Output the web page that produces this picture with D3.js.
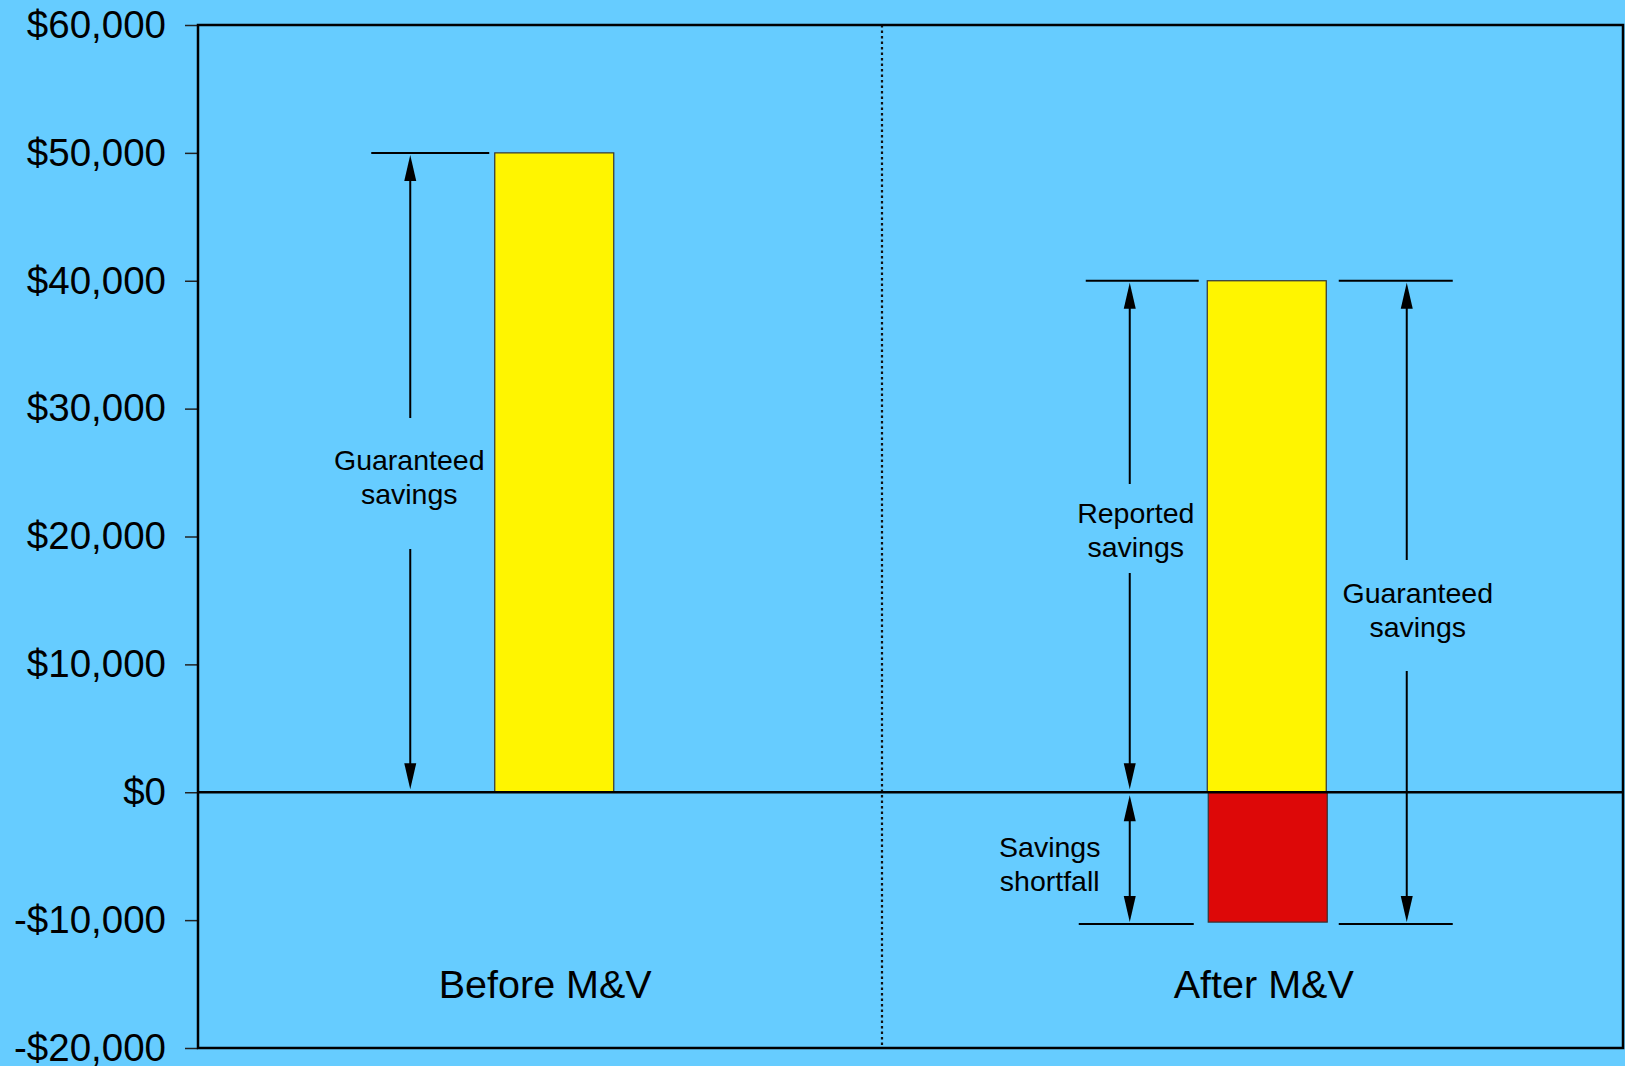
<!DOCTYPE html>
<html>
<head>
<meta charset="utf-8">
<script src="https://cdn.jsdelivr.net/npm/d3@7"></script>
<style>
  html, body { margin: 0; padding: 0; background: #66CCFF; }
  svg { display: block; }
  text { font-family: "Liberation Sans", Arial, sans-serif; fill: #000; }
</style>
</head>
<body>
<svg id="chart" width="1625" height="1066"></svg>
<script>
// ---- Data ----
const categories = ["Before M&V", "After M&V"];
const positiveValues = [50000, 40000];   // yellow bars
const negativeValues = [0, -10000];      // red bar (shortfall)
const yTicks = [-20000, -10000, 0, 10000, 20000, 30000, 40000, 50000, 60000];
const guaranteedSavings = 50000;
const reportedSavings = 40000;
const shortfall = -10000;
const dividerPosition = 0.96;           // in category units

// ---- Layout ----
const W = 1625, H = 1066;
const m = { left: 198, right: 2, top: 25, bottom: 18 };
const svg = d3.select("#chart");
svg.append("rect").attr("width", W).attr("height", H).attr("fill", "#66CCFF");

const x = d3.scaleLinear().domain([0, 2]).range([m.left, W - m.right]);
const y = d3.scaleLinear().domain([-20000, 60000]).range([H - m.bottom, m.top]);
const barW = 119;
const cx = i => x(i + 0.5);

// y axis
const fmt = d => (d < 0 ? "-" : "") + "$" + d3.format(",")(Math.abs(d));
const yAxis = svg.append("g")
  .attr("transform", `translate(${m.left},0)`)
  .call(d3.axisLeft(y).tickValues(yTicks).tickFormat(fmt).tickSize(13).tickPadding(19));
yAxis.select(".domain").remove();
yAxis.selectAll(".tick line").attr("stroke", "#222").attr("stroke-width", 1.5);
yAxis.selectAll(".tick text").style("font-size", "38.5px").attr("fill", "#000")
  .style("font-family", '"Liberation Sans", Arial, sans-serif');

// divider
svg.append("line")
  .attr("x1", x(dividerPosition)).attr("x2", x(dividerPosition))
  .attr("y1", y(60000)).attr("y2", y(-20000))
  .attr("stroke", "#111").attr("stroke-width", 2.2).attr("stroke-dasharray", "2.5,3");

// bars
svg.selectAll(".pos").data(positiveValues).join("rect")
  .attr("x", (d, i) => cx(i) - barW / 2)
  .attr("width", barW)
  .attr("y", d => y(d))
  .attr("height", d => y(0) - y(d))
  .attr("fill", "#FFF500").attr("stroke", "#333").attr("stroke-width", 1.2);

svg.selectAll(".neg").data(negativeValues.map((v, i) => ({ v, i })).filter(d => d.v < 0)).join("rect")
  .attr("x", d => cx(d.i) - barW / 2 + 1)
  .attr("width", barW)
  .attr("y", y(0))
  .attr("height", d => y(d.v) - y(0) + 2)
  .attr("fill", "#DD0808").attr("stroke", "#333").attr("stroke-width", 1.2);

// frame and zero line
svg.append("rect")
  .attr("x", x(0)).attr("y", y(60000))
  .attr("width", x(2) - x(0)).attr("height", y(-20000) - y(60000))
  .attr("fill", "none").attr("stroke", "#000").attr("stroke-width", 2.5);
svg.append("line")
  .attr("x1", x(0)).attr("x2", x(2)).attr("y1", y(0)).attr("y2", y(0))
  .attr("stroke", "#000").attr("stroke-width", 2.5);

// ---- annotation helpers ----
function hline(x1, x2, yy) {
  svg.append("line").attr("x1", x1).attr("x2", x2).attr("y1", yy).attr("y2", yy)
    .attr("stroke", "#000").attr("stroke-width", 2);
}
function vline(xx, y1, y2) {
  svg.append("line").attr("x1", xx).attr("x2", xx).attr("y1", y1).attr("y2", y2)
    .attr("stroke", "#000").attr("stroke-width", 2);
}
function head(xx, tipY, dir) { // dir -1 = pointing up, +1 = pointing down
  const L = 26, hw = 6;
  svg.append("path")
    .attr("d", `M${xx},${tipY} L${xx - hw},${tipY - dir * L} L${xx + hw},${tipY - dir * L} Z`)
    .attr("fill", "#000");
}
function label(xx, yy, lines, size) {
  const t = svg.append("text").attr("text-anchor", "middle").style("font-size", size + "px");
  lines.forEach((s, k) => t.append("tspan").attr("x", xx).attr("y", yy + k * 34).text(s));
}

const extBottom = shortfall - 300;
const fs = 28.5;

// Before M&V: guaranteed savings
{
  const c = cx(0), ax = c - 144;
  hline(c - 183, c - 65, y(guaranteedSavings));
  vline(ax, y(guaranteedSavings) + 10, 418);
  vline(ax, 549, y(0) - 10);
  head(ax, y(guaranteedSavings) + 2, -1);
  head(ax, y(0) - 3, 1);
  label(ax - 1, 470, ["Guaranteed", "savings"], fs);
}

// After M&V
{
  const c = cx(1);
  // reported savings
  const ra = c - 137;
  hline(c - 181, c - 68, y(reportedSavings));
  vline(ra, y(reportedSavings) + 10, 484);
  vline(ra, 573, y(0) - 10);
  head(ra, y(reportedSavings) + 2, -1);
  head(ra, y(0) - 3, 1);
  label(c - 131, 523, ["Reported", "savings"], fs);

  // shortfall
  hline(c - 188, c - 73, y(extBottom));
  vline(ra, y(0) + 10, y(extBottom) - 10);
  head(ra, y(0) + 3, -1);
  head(ra, y(extBottom) - 2, 1);
  label(c - 217, 857, ["Savings", "shortfall"], fs);

  // guaranteed savings
  const ga = c + 140;
  hline(c + 72, c + 186, y(reportedSavings));
  hline(c + 72, c + 186, y(extBottom));
  vline(ga, y(reportedSavings) + 10, 560);
  vline(ga, 671, y(extBottom) - 10);
  head(ga, y(reportedSavings) + 2, -1);
  head(ga, y(extBottom) - 2, 1);
  label(c + 151, 603, ["Guaranteed", "savings"], fs);
}

// category labels
svg.selectAll(".cat").data(categories).join("text")
  .attr("x", (d, i) => cx(i) - 9 + i * 6)
  .attr("y", 998)
  .attr("text-anchor", "middle")
  .style("font-size", "39.5px")
  .text(d => d);
</script>
</body>
</html>
